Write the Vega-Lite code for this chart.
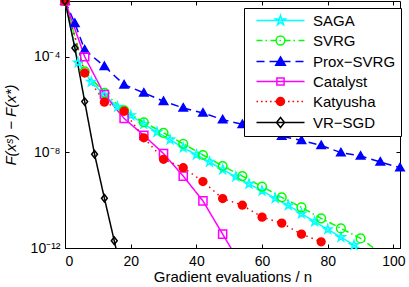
{
  "$schema": "https://vega.github.io/schema/vega-lite/v6.json",
  "width": 335,
  "height": 247,
  "autosize": {"type": "none"},
  "padding": {"left": 65, "top": 1, "right": 9, "bottom": 39},
  "background": "white",
  "config": {
    "font": "Liberation Sans",
    "view": {"stroke": "black", "strokeWidth": 1},
    "axis": {
      "grid": false,
      "domainColor": "black",
      "tickColor": "black",
      "labelColor": "black",
      "titleColor": "black",
      "labelFont": "Liberation Sans",
      "titleFont": "Liberation Sans",
      "labelFontSize": 14,
      "titleFontSize": 15,
      "titleFontWeight": "normal",
      "tickSize": -4
    },
    "legend": {
      "orient": "none",
      "legendX": 179,
      "legendY": 7,
      "padding": 5,
      "strokeColor": "black",
      "fillColor": "white",
      "symbolSize": 64,
      "symbolStrokeWidth": 1.5,
      "symbolOpacity": 1,
      "labelFont": "Liberation Sans",
      "labelFontSize": 15,
      "labelColor": "black",
      "labelOffset": 49,
      "rowPadding": 4,
      "title": null
    }
  },
  "data": {
    "values": [
      {"m": "SAGA", "x": 0, "y": 0.0215},
      {"m": "SAGA", "x": 4, "y": 5.62e-5},
      {"m": "SAGA", "x": 8, "y": 8.91e-6},
      {"m": "SAGA", "x": 12, "y": 2.51e-6},
      {"m": "SAGA", "x": 16, "y": 7.94e-7},
      {"m": "SAGA", "x": 20, "y": 3.55e-7},
      {"m": "SAGA", "x": 24, "y": 1.51e-7},
      {"m": "SAGA", "x": 28, "y": 7.08e-8},
      {"m": "SAGA", "x": 32, "y": 3.39e-8},
      {"m": "SAGA", "x": 36, "y": 1.58e-8},
      {"m": "SAGA", "x": 40, "y": 7.94e-9},
      {"m": "SAGA", "x": 44, "y": 3.98e-9},
      {"m": "SAGA", "x": 48, "y": 1.91e-9},
      {"m": "SAGA", "x": 52, "y": 9.55e-10},
      {"m": "SAGA", "x": 56, "y": 4.79e-10},
      {"m": "SAGA", "x": 60, "y": 2.45e-10},
      {"m": "SAGA", "x": 64, "y": 1.20e-10},
      {"m": "SAGA", "x": 68, "y": 6.03e-11},
      {"m": "SAGA", "x": 72, "y": 2.75e-11},
      {"m": "SAGA", "x": 76, "y": 1.26e-11},
      {"m": "SAGA", "x": 80, "y": 6.03e-12},
      {"m": "SAGA", "x": 84, "y": 2.82e-12},
      {"m": "SAGA", "x": 88, "y": 1.32e-12},
      {"m": "SAGA", "x": 92, "y": 6.03e-13},
      {"m": "SVRG", "x": 0, "y": 0.0215},
      {"m": "SVRG", "x": 6, "y": 2.45e-5},
      {"m": "SVRG", "x": 12, "y": 3.09e-6},
      {"m": "SVRG", "x": 18, "y": 5.75e-7},
      {"m": "SVRG", "x": 24, "y": 1.82e-7},
      {"m": "SVRG", "x": 30, "y": 6.61e-8},
      {"m": "SVRG", "x": 36, "y": 2.29e-8},
      {"m": "SVRG", "x": 42, "y": 7.76e-9},
      {"m": "SVRG", "x": 48, "y": 2.69e-9},
      {"m": "SVRG", "x": 54, "y": 1.02e-9},
      {"m": "SVRG", "x": 60, "y": 3.72e-10},
      {"m": "SVRG", "x": 66, "y": 1.32e-10},
      {"m": "SVRG", "x": 72, "y": 5.01e-11},
      {"m": "SVRG", "x": 78, "y": 1.74e-11},
      {"m": "SVRG", "x": 84, "y": 6.61e-12},
      {"m": "SVRG", "x": 90, "y": 2.51e-12},
      {"m": "SVRG", "x": 96, "y": 6.31e-13},
      {"m": "Prox−SVRG", "x": 0, "y": 0.0215},
      {"m": "Prox−SVRG", "x": 3, "y": 2.51e-3},
      {"m": "Prox−SVRG", "x": 6, "y": 1.95e-4},
      {"m": "Prox−SVRG", "x": 12, "y": 3.98e-5},
      {"m": "Prox−SVRG", "x": 18, "y": 6.76e-6},
      {"m": "Prox−SVRG", "x": 24, "y": 3.09e-6},
      {"m": "Prox−SVRG", "x": 30, "y": 1.38e-6},
      {"m": "Prox−SVRG", "x": 36, "y": 7.24e-7},
      {"m": "Prox−SVRG", "x": 42, "y": 4.47e-7},
      {"m": "Prox−SVRG", "x": 48, "y": 2.34e-7},
      {"m": "Prox−SVRG", "x": 54, "y": 1.48e-7},
      {"m": "Prox−SVRG", "x": 60, "y": 8.51e-8},
      {"m": "Prox−SVRG", "x": 66, "y": 4.79e-8},
      {"m": "Prox−SVRG", "x": 72, "y": 3.16e-8},
      {"m": "Prox−SVRG", "x": 78, "y": 1.95e-8},
      {"m": "Prox−SVRG", "x": 84, "y": 9.77e-9},
      {"m": "Prox−SVRG", "x": 90, "y": 7.08e-9},
      {"m": "Prox−SVRG", "x": 96, "y": 3.98e-9},
      {"m": "Prox−SVRG", "x": 102, "y": 2.29e-9},
      {"m": "Catalyst", "x": 0, "y": 0.0215},
      {"m": "Catalyst", "x": 6, "y": 1.0e-4},
      {"m": "Catalyst", "x": 12, "y": 2.63e-6},
      {"m": "Catalyst", "x": 18, "y": 2.63e-7},
      {"m": "Catalyst", "x": 24, "y": 5.13e-8},
      {"m": "Catalyst", "x": 30, "y": 8.91e-9},
      {"m": "Catalyst", "x": 36, "y": 1.02e-9},
      {"m": "Catalyst", "x": 42, "y": 9.33e-11},
      {"m": "Catalyst", "x": 48, "y": 3.80e-12},
      {"m": "Catalyst", "x": 54, "y": 1.58e-13},
      {"m": "Katyusha", "x": 0, "y": 0.0215},
      {"m": "Katyusha", "x": 6, "y": 2.09e-5},
      {"m": "Katyusha", "x": 12, "y": 1.26e-6},
      {"m": "Katyusha", "x": 18, "y": 5.25e-7},
      {"m": "Katyusha", "x": 24, "y": 4.07e-8},
      {"m": "Katyusha", "x": 30, "y": 5.13e-9},
      {"m": "Katyusha", "x": 36, "y": 2.29e-9},
      {"m": "Katyusha", "x": 42, "y": 6.03e-10},
      {"m": "Katyusha", "x": 48, "y": 1.17e-10},
      {"m": "Katyusha", "x": 54, "y": 6.17e-11},
      {"m": "Katyusha", "x": 60, "y": 1.95e-11},
      {"m": "Katyusha", "x": 66, "y": 1.10e-11},
      {"m": "Katyusha", "x": 72, "y": 3.80e-12},
      {"m": "Katyusha", "x": 78, "y": 1.82e-12},
      {"m": "VR−SGD", "x": 0, "y": 0.0215},
      {"m": "VR−SGD", "x": 3, "y": 2.34e-4},
      {"m": "VR−SGD", "x": 6, "y": 1.33e-6},
      {"m": "VR−SGD", "x": 9, "y": 8.32e-9},
      {"m": "VR−SGD", "x": 12, "y": 1.20e-10},
      {"m": "VR−SGD", "x": 15, "y": 2.00e-12},
      {"m": "VR−SGD", "x": 18, "y": 3.16e-14}
    ]
  },
  "layer": [
    {
      "mark": {"type": "line", "clip": true, "strokeWidth": 1.5},
      "encoding": {
        "x": {"field": "x", "type": "quantitative", "scale": {"domain": [0, 102], "nice": false, "zero": false},
              "axis": {"orient": "bottom", "values": [0, 20, 40, 60, 80, 100], "title": "Gradient evaluations / n", "labelPadding": 10, "titlePadding": 1}},
        "y": {"field": "y", "type": "quantitative", "scale": {"type": "log", "domain": [1e-12, 0.0215], "nice": false},
              "axis": {"orient": "left", "values": [1e-12, 1e-8, 1e-4], "labelExpr": "datum.value < 1e-10 ? '10⁻¹²' : (datum.value < 1e-6 ? '10⁻⁸' : '10⁻⁴')", "title": "F(xˢ) − F(x*)", "titleFontStyle": "italic", "labelPadding": 9, "titlePadding": 12}},
        "color": {"field": "m", "type": "nominal", "legend": null,
                  "scale": {"domain": ["SAGA", "SVRG", "Prox−SVRG", "Catalyst", "Katyusha", "VR−SGD"], "range": ["#00ffff", "#00ff00", "#0000ff", "#ff00ff", "#ff0000", "#000000"]}},
        "strokeDash": {"field": "m", "type": "nominal", "legend": null,
                  "scale": {"domain": ["SAGA", "SVRG", "Prox−SVRG", "Catalyst", "Katyusha", "VR−SGD"], "range": [[1, 0], [7, 3, 1.5, 3], [8, 5], [1, 0], [1.5, 4], [1, 0]]}}
      }
    },
    {
      "transform": [{"filter": "datum.y >= 1e-12"}],
      "mark": {"type": "point", "strokeWidth": 1.5, "opacity": 1},
      "encoding": {
        "x": {"field": "x", "type": "quantitative", "axis": null},
        "y": {"field": "y", "type": "quantitative", "axis": null},
        "shape": {"field": "m", "type": "nominal", "legend": null,
                  "scale": {"domain": ["SAGA", "SVRG", "Prox−SVRG", "Catalyst", "Katyusha", "VR−SGD"],
                            "range": ["M0,-1L0.2245,-0.309L0.951,-0.309L0.363,0.118L0.588,0.809L0,0.382L-0.588,0.809L-0.363,0.118L-0.951,-0.309L-0.2245,-0.309Z", "circle", "M0,-1L1,0.75L-1,0.75Z", "square", "circle", "M0,-1L0.78,0L0,1L-0.78,0Z"]}},
        "stroke": {"field": "m", "type": "nominal", "legend": null,
                  "scale": {"domain": ["SAGA", "SVRG", "Prox−SVRG", "Catalyst", "Katyusha", "VR−SGD"], "range": ["#00ffff", "#00ff00", "#0000ff", "#ff00ff", "#ff0000", "#000000"]}},
        "fill": {"field": "m", "type": "nominal", "legend": null,
                  "scale": {"domain": ["SAGA", "SVRG", "Prox−SVRG", "Catalyst", "Katyusha", "VR−SGD"], "range": ["transparent", "transparent", "#0000ff", "transparent", "#ff0000", "transparent"]}},
        "size": {"field": "m", "type": "nominal", "legend": null,
                  "scale": {"domain": ["SAGA", "SVRG", "Prox−SVRG", "Catalyst", "Katyusha", "VR−SGD"], "range": [81, 56, 72, 36, 42, 72]}}
      }
    },
    {
      "mark": {"type": "point", "opacity": 0, "strokeWidth": 1.5},
      "encoding": {
        "x": {"field": "x", "type": "quantitative",
              "axis": {"orient": "top", "values": [0, 20, 40, 60, 80, 100], "labels": false, "title": null, "domain": false}},
        "y": {"field": "y", "type": "quantitative",
              "axis": {"orient": "right", "values": [1e-12, 1e-8, 1e-4], "labels": false, "title": null, "domain": false}},
        "shape": {"field": "m", "type": "nominal",
                  "scale": {"domain": ["SAGA", "SVRG", "Prox−SVRG", "Catalyst", "Katyusha", "VR−SGD"],
                            "range": [
                              "M0,0H12M6,-1.3L6.292,-0.402L7.236,-0.402L6.472,0.153L6.764,1.052L6,0.497L5.236,1.052L5.528,0.153L4.764,-0.402L5.708,-0.402Z",
                              "M0,0H1.5M2.25,0H2.625M3.5,0H5M5.75,0H6.125M7,0H8.5M9.25,0H9.625M10.5,0H12M7.1,0A1.1,1.1,0,1,1,4.9,0A1.1,1.1,0,1,1,7.1,0Z",
                              "M0,0H2M3.25,0H5.25M6.5,0H8.5M9.75,0H11.75M6,-1.15L7.2,0.95L4.8,0.95Z",
                              "M0,0H12M5.1,-0.9H6.9V0.9H5.1Z",
                              "M0,0H0.4M1.125,0H1.525M2.25,0H2.65M3.375,0H3.775M4.5,0H4.9M5.625,0H6.025M6.75,0H7.15M7.875,0H8.275M9,0H9.4M10.125,0H10.525M11.25,0H11.65M7,0A1,1,0,1,1,5,0A1,1,0,1,1,7,0Z",
                              "M0,0H12M6,-1.25L7,0L6,1.25L5,0Z"
                            ]}},
        "stroke": {"field": "m", "type": "nominal",
                  "scale": {"domain": ["SAGA", "SVRG", "Prox−SVRG", "Catalyst", "Katyusha", "VR−SGD"], "range": ["#00ffff", "#00ff00", "#0000ff", "#ff00ff", "#ff0000", "#000000"]}},
        "fill": {"field": "m", "type": "nominal",
                  "scale": {"domain": ["SAGA", "SVRG", "Prox−SVRG", "Catalyst", "Katyusha", "VR−SGD"], "range": ["transparent", "transparent", "#0000ff", "transparent", "#ff0000", "transparent"]}}
      }
    }
  ],
  "resolve": {
    "scale": {"shape": "independent", "stroke": "independent", "fill": "independent"},
    "axis": {"x": "independent", "y": "independent"}
  }
}
